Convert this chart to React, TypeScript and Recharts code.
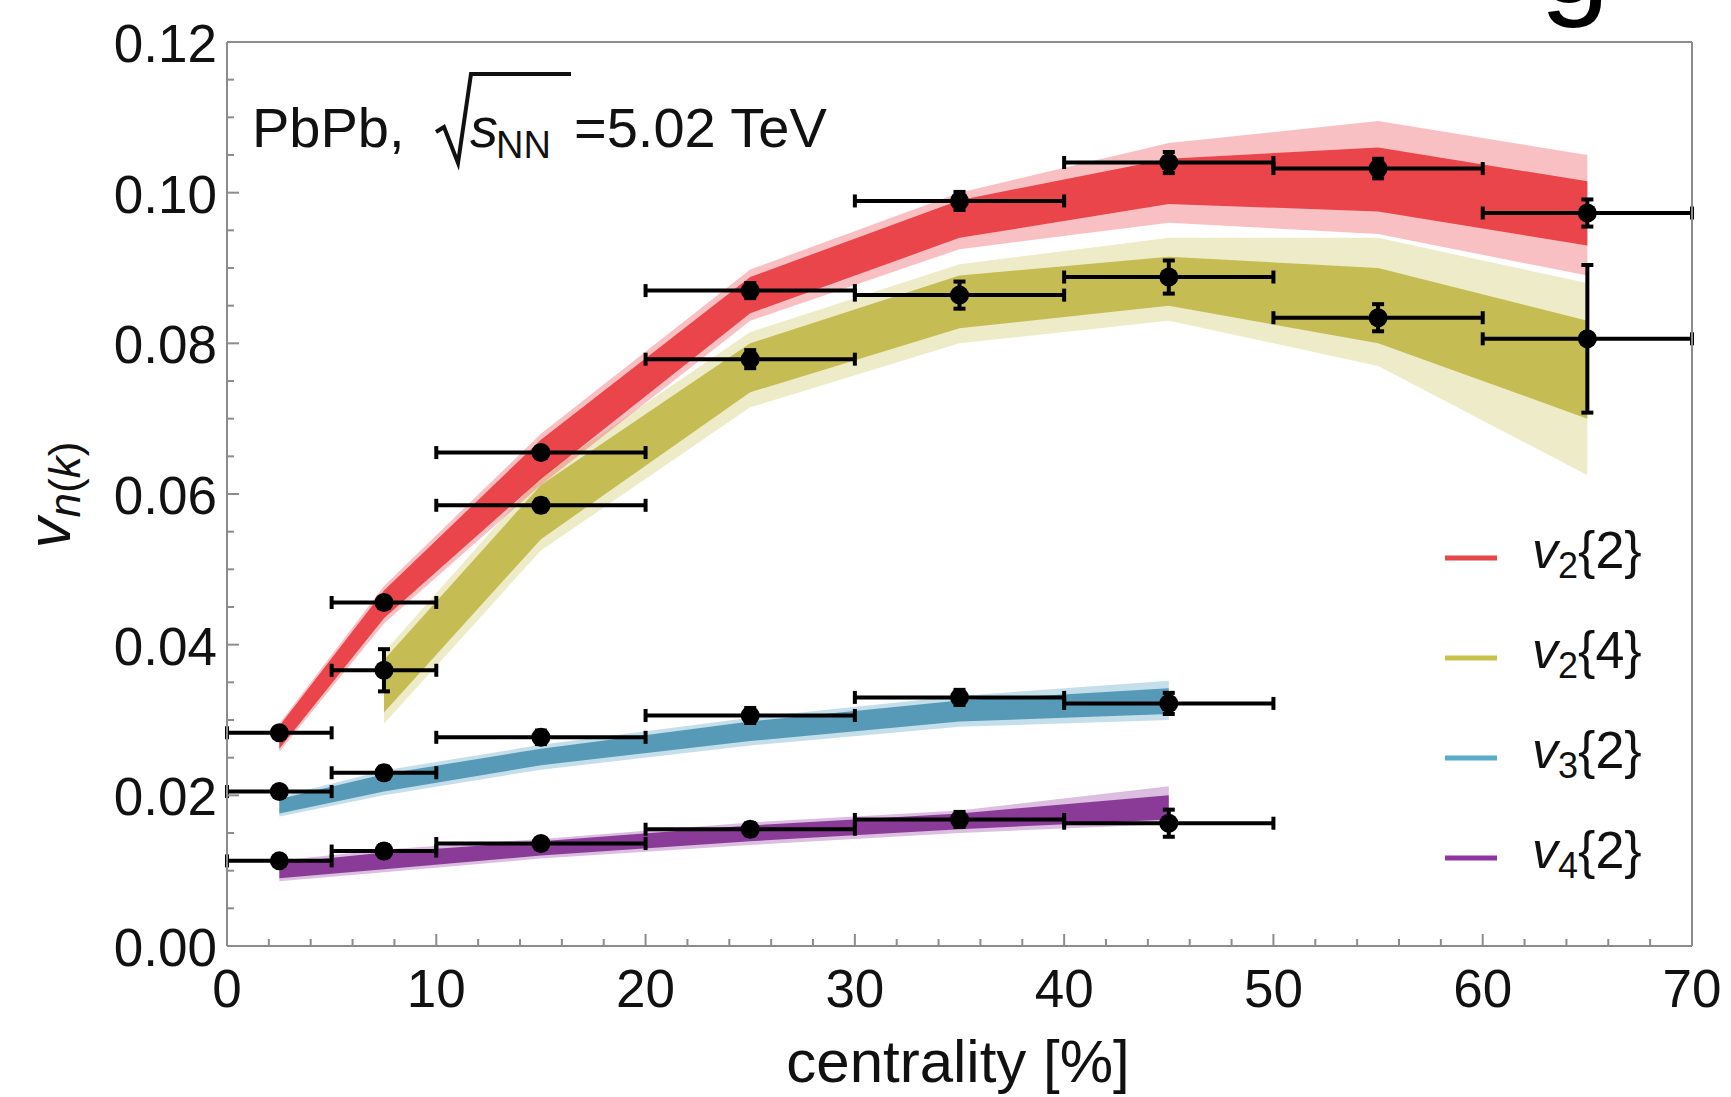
import { ComposedChart, XAxis, YAxis, Area, Scatter, ErrorBar } from 'recharts'

// centrality bins (bin centres and half widths)
const centrality = [2.5, 7.5, 15, 25, 35, 45, 55, 65]
const halfBin = [2.5, 2.5, 5, 5, 5, 5, 5, 5]

// measured points
const v22 = [0.0283, 0.0456, 0.0655, 0.087, 0.0989, 0.104, 0.1032, 0.0973]
const v22Err = [0.0005, 0.0005, 0.0005, 0.001, 0.0012, 0.0014, 0.0013, 0.0018]
const v24 = [0.0366, 0.0585, 0.0779, 0.0864, 0.0888, 0.0834, 0.0806]
const v24Err = [0.0028, 0.0008, 0.0012, 0.0018, 0.0022, 0.0018, 0.0098]
const v32 = [0.0205, 0.023, 0.0277, 0.0306, 0.033, 0.0322]
const v32Err = [0.0005, 0.0008, 0.0009, 0.001, 0.001, 0.0014]
const v42 = [0.0113, 0.0126, 0.0136, 0.0155, 0.0168, 0.0163]
const v42Err = [0.0005, 0.0008, 0.0005, 0.0008, 0.001, 0.0018]

// model bands: outer envelope and dense core
const v22Lo = [0.0258, 0.0428, 0.0612, 0.083, 0.0925, 0.096, 0.0945, 0.089]
const v22Hi = [0.0295, 0.0478, 0.068, 0.0898, 0.1, 0.1066, 0.1095, 0.105]
const v22CoreLo = [0.0262, 0.0435, 0.062, 0.084, 0.094, 0.0985, 0.0975, 0.093]
const v22CoreHi = [0.0292, 0.0472, 0.0672, 0.0888, 0.099, 0.1045, 0.106, 0.1015]

const v24Lo = [0.0295, 0.0525, 0.0715, 0.08, 0.083, 0.077, 0.0625]
const v24Hi = [0.039, 0.0625, 0.0815, 0.0905, 0.094, 0.094, 0.088]
const v24CoreLo = [0.031, 0.054, 0.0735, 0.082, 0.085, 0.08, 0.07]
const v24CoreHi = [0.038, 0.0612, 0.08, 0.089, 0.0915, 0.09, 0.083]

const v32Lo = [0.0172, 0.02, 0.0234, 0.0266, 0.0291, 0.03]
const v32Hi = [0.0198, 0.0233, 0.0267, 0.0303, 0.0332, 0.0352]
const v32CoreLo = [0.0176, 0.0205, 0.024, 0.0272, 0.0298, 0.0308]
const v32CoreHi = [0.0195, 0.0228, 0.0262, 0.0298, 0.0326, 0.0342]

const v42Lo = [0.0086, 0.0098, 0.0116, 0.0134, 0.015, 0.0162]
const v42Hi = [0.0113, 0.0128, 0.0142, 0.0164, 0.018, 0.0212]
const v42CoreLo = [0.009, 0.0102, 0.012, 0.0139, 0.0155, 0.0168]
const v42CoreHi = [0.011, 0.0124, 0.0139, 0.016, 0.0176, 0.02]

const xTicks = [0, 2, 4, 6, 8, 10, 12, 14, 16, 18, 20, 22, 24, 26, 28, 30, 32, 34, 36, 38, 40, 42, 44, 46, 48, 50, 52, 54, 56, 58, 60, 62, 64, 66, 68, 70]
const yTicks = [0, 0.005, 0.01, 0.015, 0.02, 0.025, 0.03, 0.035, 0.04, 0.045, 0.05, 0.055, 0.06, 0.065, 0.07, 0.075, 0.08, 0.085, 0.09, 0.095, 0.1, 0.105, 0.11, 0.115, 0.12]

const legendItems = [
  { n: '2', k: '2', color: '#e8474a' },
  { n: '2', k: '4', color: '#c9c24a' },
  { n: '3', k: '2', color: '#5aaccb' },
  { n: '4', k: '2', color: '#9134a3' },
]

const FONT = '"Liberation Sans", Arial, Helvetica, sans-serif'
const FRAME = '#8c8c8c'

const band = (xs: number[], lo: number[], hi: number[]) => xs.map((x, i) => ({ x, band: [lo[i], hi[i]] }))
const points = (xs: number[], ys: number[], ex: number[], ey: number[]) =>
  xs.map((x, i) => ({ x, y: ys[i], ex: ex[i], ey: ey[i] }))

const isMajorX = (v: number) => v % 10 === 0
const isMajorY = (v: number) => Math.round(v * 1000) % 20 === 0

const BottomTick = ({ x, y, payload }: any) => {
  const major = isMajorX(payload.value)
  return (
    <g>
      <line x1={x} x2={x} y1={y} y2={y - (major ? 12 : 7)} stroke={FRAME} strokeWidth={2} />
      {major && (
        <text x={x} y={y + 61} textAnchor="middle" fontSize={53} fontFamily={FONT} fill="#111">
          {payload.value}
        </text>
      )}
    </g>
  )
}

const TopTick = ({ x, y, payload }: any) => (
  <line x1={x} x2={x} y1={y} y2={y + (isMajorX(payload.value) ? 12 : 7)} stroke={FRAME} strokeWidth={2} />
)

const LeftTick = ({ x, y, payload }: any) => {
  const major = isMajorY(payload.value)
  return (
    <g>
      <line x1={x} x2={x + (major ? 12 : 7)} y1={y} y2={y} stroke={FRAME} strokeWidth={2} />
      {major && (
        <text x={x - 10} y={y + 20} textAnchor="end" fontSize={53} fontFamily={FONT} fill="#111">
          {payload.value.toFixed(2)}
        </text>
      )}
    </g>
  )
}

const RightTick = ({ x, y, payload }: any) => (
  <line x1={x} x2={x - (isMajorY(payload.value) ? 12 : 7)} y1={y} y2={y} stroke={FRAME} strokeWidth={2} />
)

const Dot = (props: any) => <circle cx={props.cx} cy={props.cy} r={9.5} fill="#000" />

const bandAreas = (key: string, outer: any[], core: any[], color: string, coreColor: string) => [
  <Area
    key={key + '-outer'}
    data={outer}
    dataKey="band"
    type="linear"
    stroke="none"
    fill={color}
    fillOpacity={0.35}
    dot={false}
    activeDot={false}
    isAnimationActive={false}
  />,
  <Area
    key={key + '-core'}
    data={core}
    dataKey="band"
    type="linear"
    stroke="none"
    fill={coreColor}
    fillOpacity={0.8}
    dot={false}
    activeDot={false}
    isAnimationActive={false}
  />,
]

const dataSeries = (key: string, data: any[]) => (
  <Scatter key={key} data={data} dataKey="y" shape={Dot} isAnimationActive={false}>
    <ErrorBar dataKey="ex" direction="x" width={6.5} stroke="#000" strokeWidth={4} />
    <ErrorBar dataKey="ey" direction="y" width={6} stroke="#000" strokeWidth={4} />
  </Scatter>
)

const axisCommon = {
  type: 'number' as const,
  interval: 0 as const,
  tickSize: 0,
  tickMargin: 0,
  tickLine: false,
  axisLine: { stroke: FRAME, strokeWidth: 2 },
}

export default function App() {
  const c6 = centrality.slice(0, 6)
  const c7 = centrality.slice(1)

  return (
    <div style={{ position: 'absolute', left: 0, top: 0, width: 1731, height: 1097, background: '#fff' }}>
      <ComposedChart width={1731} height={1097} margin={{ top: 41, right: 38, bottom: 150, left: 226 }}>
        <XAxis {...axisCommon} dataKey="x" domain={[0, 70]} ticks={xTicks} height={1} tick={BottomTick} />
        <XAxis
          {...axisCommon}
          xAxisId="top"
          orientation="top"
          dataKey="x"
          domain={[0, 70]}
          ticks={xTicks}
          height={1}
          tick={TopTick}
        />
        <YAxis {...axisCommon} domain={[0, 0.12]} ticks={yTicks} width={1} tick={LeftTick} />
        <YAxis
          {...axisCommon}
          yAxisId="right"
          orientation="right"
          domain={[0, 0.12]}
          ticks={yTicks}
          width={1}
          tick={RightTick}
        />

        {bandAreas('v24', band(c7, v24Lo, v24Hi), band(c7, v24CoreLo, v24CoreHi), '#cfc862', '#bab236')}
        {bandAreas('v22', band(centrality, v22Lo, v22Hi), band(centrality, v22CoreLo, v22CoreHi), '#ec4a50', '#e5262d')}
        {bandAreas('v32', band(c6, v32Lo, v32Hi), band(c6, v32CoreLo, v32CoreHi), '#5aa3c2', '#3a88aa')}
        {bandAreas('v42', band(c6, v42Lo, v42Hi), band(c6, v42CoreLo, v42CoreHi), '#9a45a8', '#761a86')}

        {dataSeries('p22', points(centrality, v22, halfBin, v22Err))}
        {dataSeries('p24', points(c7, v24, halfBin.slice(1), v24Err))}
        {dataSeries('p32', points(c6, v32, halfBin.slice(0, 6), v32Err))}
        {dataSeries('p42', points(c6, v42, halfBin.slice(0, 6), v42Err))}
      </ComposedChart>

      <svg
        width={1731}
        height={1097}
        style={{ position: 'absolute', left: 0, top: 0, pointerEvents: 'none', overflow: 'hidden' }}
        fontFamily={FONT}
      >
        {/* cut-off panel letter at the top edge */}
        <text x={1540} y={2} fontSize={125} fill="#000">g</text>

        {/* collision system label */}
        <text x={252} y={147} fontSize={56} fill="#111">PbPb,</text>
        <path d="M436 132 L444 127 L458 163 L471 74 L571 74" fill="none" stroke="#111" strokeWidth={4} />
        <text x={470} y={147} fontSize={56} fontStyle="italic" fill="#111">s</text>
        <text x={496} y={158} fontSize={38} fill="#111">NN</text>
        <text x={574} y={147} fontSize={56} fill="#111">=5.02 TeV</text>

        {/* axis titles */}
        <text x={958} y={1082} textAnchor="middle" fontSize={60} fill="#111">centrality [%]</text>
        <text transform="translate(70, 495) rotate(-90)" textAnchor="middle" fill="#111">
          <tspan fontSize={62} fontStyle="italic">v</tspan>
          <tspan fontSize={44} fontStyle="italic" dy={10}>n</tspan>
          <tspan fontSize={44}>(</tspan>
          <tspan fontSize={44} fontStyle="italic">k</tspan>
          <tspan fontSize={44}>)</tspan>
        </text>

        {/* legend */}
        {legendItems.map((item, i) => {
          const cy = 558 + i * 100
          return (
            <g key={i}>
              <line x1={1445} x2={1497} y1={cy} y2={cy} stroke={item.color} strokeWidth={5} />
              <text x={1532} y={cy + 10} fontSize={52} fill="#111">
                <tspan fontStyle="italic">v</tspan>
                <tspan fontSize={36} dy={10}>{item.n}</tspan>
                <tspan dy={-10}>{'{' + item.k + '}'}</tspan>
              </text>
            </g>
          )
        })}
      </svg>
    </div>
  )
}
